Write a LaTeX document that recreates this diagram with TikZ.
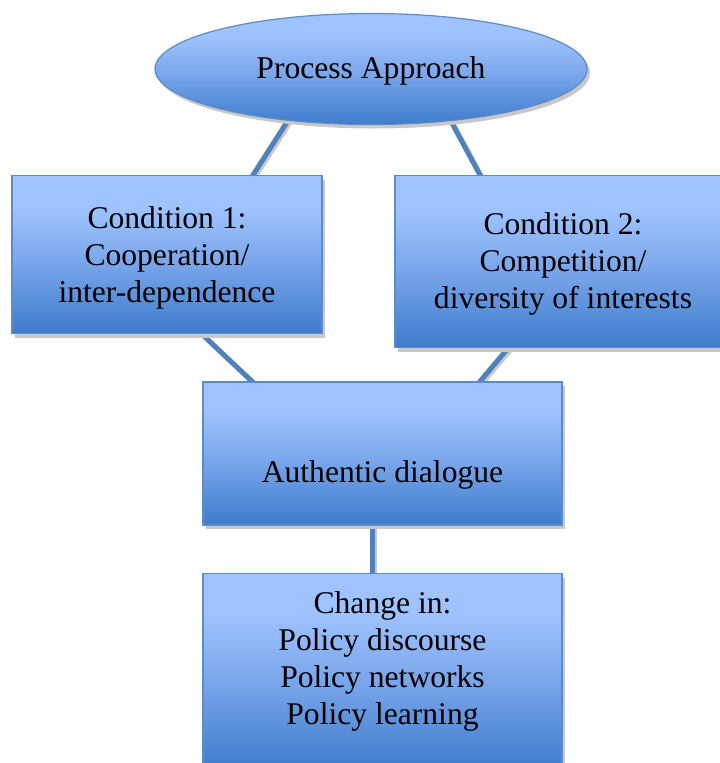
\documentclass[tikz,border=0pt]{standalone}
\usepackage{fontspec}
\setmainfont{Liberation Serif}
\usetikzlibrary{shapes.geometric,shadows,calc,backgrounds}
\definecolor{obtop}{RGB}{158,195,255}
\definecolor{obmid}{RGB}{128,170,238}
\definecolor{obbot}{RGB}{62,124,203}
\definecolor{obline}{RGB}{79,129,189}
\definecolor{obedge}{RGB}{92,140,200}
\definecolor{shadowgray}{RGB}{200,200,200}
\pgfdeclareverticalshading{officeblue}{100bp}{color(0bp)=(obbot); color(25bp)=(obbot); color(50bp)=(obmid); color(65bp)=(obtop); color(100bp)=(obtop)}
\begin{document}
\begin{tikzpicture}[x=1pt,y=-1pt,
  blockbox/.style={draw=obedge, line width=1.2pt, shading=officeblue,
    drop shadow={shadow xshift=3pt, shadow yshift=-4pt, fill=shadowgray, opacity=1},
    inner sep=0pt, align=center, font=\fontsize{31.6}{37}\selectfont},
  link/.style={line width=5pt, draw=obline},
  linkshadow/.style={line width=5pt, draw=shadowgray, transform canvas={xshift=2pt, yshift=-2pt}}]
\useasboundingbox (0,0) rectangle (720,763);
\clip (0,0) rectangle (720,763);

\node[ellipse, blockbox, minimum width=432pt, minimum height=111pt, text height=20pt, text depth=2pt] (pa) at (371,69) {Process Approach};
\node[blockbox, minimum width=310pt, anchor=north] (b1) at (167,175) {\rule{0pt}{53pt}Condition 1:\\Cooperation/\\inter-dependence\rule[-31pt]{0pt}{31pt}};
\node[blockbox, minimum width=336pt, anchor=north] (b2) at (563,175) {\rule{0pt}{59pt}Condition 2:\\Competition/\\diversity of interests\rule[-39pt]{0pt}{39pt}};
\node[blockbox, minimum width=359pt, text height=100pt, text depth=43pt] (b3) at (382.5,453.5) {Authentic dialogue};
\node[blockbox, minimum width=359pt, anchor=north] (b4) at (382.5,573) {\rule{0pt}{40pt}Change in:\\Policy discourse\\Policy networks\\Policy learning\rule[-45pt]{0pt}{45pt}};

\coordinate (c1a) at ([xshift=-86pt]pa.south);
\coordinate (c1b) at ([xshift=86pt]b1.north);
\coordinate (c2a) at ([xshift=82pt]pa.south);
\coordinate (c2b) at ([xshift=-83pt]b2.north);
\coordinate (c3a) at ([xshift=35pt]b1.south);
\coordinate (c3b) at ([xshift=-130.5pt]b3.north);
\coordinate (c4a) at ([xshift=-55pt]b2.south);
\coordinate (c4b) at ([xshift=97.5pt]b3.north);
\coordinate (c5a) at ([xshift=-10.5pt]b3.south);
\coordinate (c5b) at ([xshift=-10.5pt]b4.north);

\begin{pgfonlayer}{background}
\foreach \a/\b in {c1a/c1b, c2a/c2b, c3a/c3b, c4a/c4b, c5a/c5b}{
  \draw[linkshadow] ($(\a)!-0.3!(\b)$) -- ($(\b)!-0.3!(\a)$);
  \draw[link] ($(\a)!-0.3!(\b)$) -- ($(\b)!-0.3!(\a)$);
}
\end{pgfonlayer}
\end{tikzpicture}
\end{document}
